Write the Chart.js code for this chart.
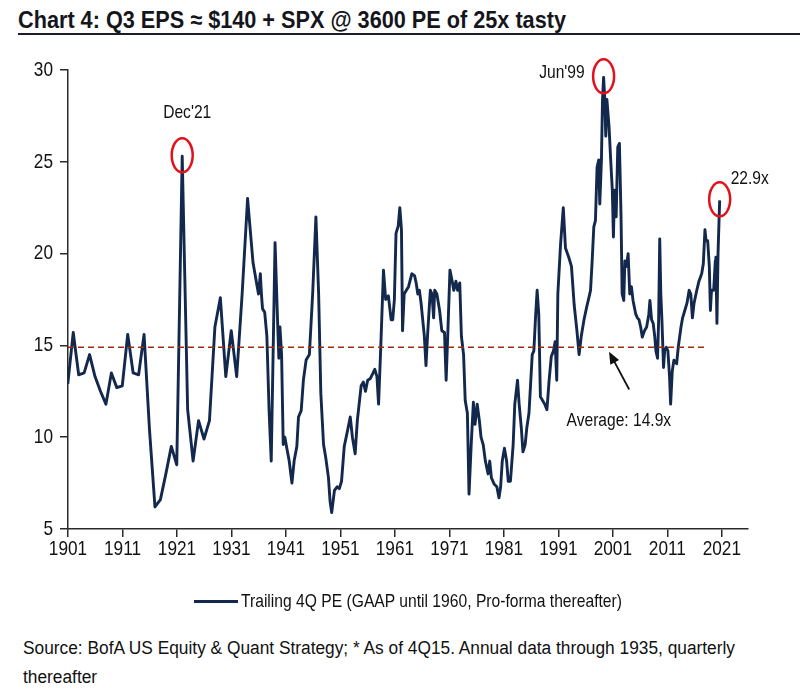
<!DOCTYPE html>
<html>
<head>
<meta charset="utf-8">
<script src="https://cdn.jsdelivr.net/npm/chart.js@4.4.1/dist/chart.umd.min.js"></script>
<style>
  html, body { margin:0; padding:0; background:#fff; }
  body { width:800px; height:690px; position:relative; overflow:hidden;
         font-family:'Liberation Sans',Arial,sans-serif; color:#111; }
  .fit { position:absolute; white-space:nowrap; transform-origin:0 50%; }
  #title { left:18px; top:6px; font-size:24px; font-weight:bold; color:#15161c; }
  #rule { position:absolute; left:18px; right:0; top:33px; height:2px; background:#1b1d2b; }
  #wrap { position:absolute; left:0; top:0; width:800px; height:600px; }
  #legLine { position:absolute; left:194px; top:600px; width:44px; height:3px; background:#13284d; }
  #legText { left:241px; top:590px; font-size:19px; line-height:22px; }
  #src1 { left:23px; top:637px; font-size:18px; line-height:22px; }
  #src2 { left:23px; top:666px; font-size:18px; line-height:22px; }
</style>
</head>
<body>
<div id="title" class="fit">Chart 4: Q3 EPS ≈ $140 + SPX @ 3600 PE of 25x tasty</div>
<div id="rule"></div>
<div id="wrap"><canvas id="peChart"></canvas></div>
<div id="legLine"></div>
<div id="legText" class="fit">Trailing 4Q PE (GAAP until 1960, Pro-forma thereafter)</div>
<div id="src1" class="fit">Source: BofA US Equity &amp; Quant Strategy; * As of 4Q15. Annual data through 1935, quarterly</div>
<div id="src2" class="fit">thereafter</div>

<script>
// annual data (Dec of each year) through 1935
const annualYears = [1900,1901,1902,1903,1904,1905,1906,1907,1908,1909,1910,1911,1912,1913,1914,1915,1916,1917,
  1918,1919,1920,1921,1922,1923,1924,1925,1926,1927,1928,1929,1930,1931,1932,1933,1934,1935];
const annualPE = [12.9,15.7,13.4,13.5,14.5,13.3,12.5,11.8,13.5,12.7,12.8,15.6,13.5,13.4,15.6,10.4,6.2,6.6,
  8.0,9.5,8.5,25.3,11.5,8.7,10.9,9.9,10.9,16.0,17.6,13.3,15.8,13.3,17.8,23.0,19.5,17.8];

// quarterly data afterwards (decimal years)
const quarterDates = [1936.3,1936.5,1936.7,1937.1,1937.5,1937.9,1938.3,1939.0,1939.5,1939.7,1939.9,1940.2,1940.5,1940.8,
  1941.1,1941.6,1942.1,1942.5,1943.0,1943.3,1943.8,1944.2,1944.7,1945.3,1945.9,1946.5,1947.0,1947.4,1947.9,1948.3,
  1948.8,1949.1,1949.4,1949.9,1950.4,1950.8,1951.2,1951.7,1952.4,1952.8,1953.2,1953.7,1954.1,1954.8,1955.2,1955.6,
  1956.0,1956.5,1957.0,1957.3,1957.7,1958.0,1958.4,1958.9,1959.3,1959.8,1960.3,1960.6,1960.9,1961.2,1961.6,1961.9,
  1962.2,1962.4,1962.7,1963.1,1963.5,1964.1,1964.6,1964.9,1965.2,1965.5,1965.8,1966.1,1966.4,1966.7,1967.0,1967.5,
  1967.8,1968.1,1968.3,1968.7,1969.2,1969.6,1970.1,1970.4,1970.7,1971.1,1971.5,1971.8,1972.2,1972.5,1972.9,1973.2,
  1973.6,1973.9,1974.3,1974.6,1975.0,1975.4,1975.7,1976.1,1976.5,1976.8,1977.2,1977.6,1978.1,1978.4,1978.7,1979.2,
  1979.7,1980.1,1980.4,1980.7,1981.1,1981.5,1981.8,1982.2,1982.7,1983.0,1983.5,1983.8,1984.2,1984.5,1984.9,1985.2,
  1985.6,1985.9,1986.2,1986.5,1986.8,1987.1,1987.4,1987.7,1988.1,1988.5,1988.9,1989.3,1989.7,1990.1,1990.4,1990.7,
  1990.9,1991.4,1991.9,1992.3,1992.9,1993.4,1993.9,1994.4,1994.8,1995.2,1995.7,1996.2,1996.6,1996.9,1997.2,1997.5,
  1997.8,1998.1,1998.4,1998.6,1998.9,1999.1,1999.3,1999.5,1999.7,1999.9,2000.3,2000.6,2000.9,2001.1,2001.3,2001.6,
  2001.9,2002.2,2002.5,2002.7,2003.0,2003.2,2003.5,2003.8,2004.1,2004.4,2004.7,2005.2,2005.5,2005.8,2006.1,2006.4,
  2006.8,2007.2,2007.6,2007.8,2008.1,2008.4,2008.7,2008.9,2009.2,2009.4,2009.6,2009.8,2010.0,2010.3,2010.5,2010.8,
  2011.1,2011.4,2011.6,2011.9,2012.2,2012.7,2013.0,2013.5,2013.8,2014.2,2014.6,2015.0,2015.3,2015.6,2015.9,2016.4,
  2016.8,2017.3,2017.6,2017.9,2018.1,2018.4,2018.7,2018.9,2019.1,2019.5,2019.8,2019.9,2020.1,2020.3,2020.6];
const quarterPE = [18.9,17.8,17.0,16.8,15.5,11.5,8.7,20.6,16.0,14.3,16.0,14.5,9.6,10.0,
  9.5,8.7,7.5,8.7,9.5,11.1,11.45,13.1,14.2,14.5,17.8,22.0,17.8,12.4,9.6,8.9,
  7.8,6.5,5.9,7.1,7.3,7.2,7.6,9.5,10.5,11.1,10.0,9.1,10.9,12.8,13.0,12.5,
  13.1,13.2,13.5,13.7,13.3,11.8,14.9,19.1,17.5,17.7,16.4,16.4,17.5,21.1,21.5,22.5,
  21.3,15.8,17.8,18.0,18.2,18.9,18.8,18.4,17.8,18.0,17.3,16.4,15.5,13.9,15.6,18.0,
  17.8,16.5,18.0,17.8,16.9,15.8,15.7,13.1,15.6,19.1,18.5,18.0,18.5,18.0,18.4,15.5,
  14.5,12.0,11.3,6.9,9.6,11.9,10.7,11.8,10.9,10.0,9.6,8.7,8.0,8.7,7.8,7.45,
  7.3,6.7,7.3,8.7,9.4,8.7,7.6,7.6,9.6,11.8,13.1,11.8,10.5,9.2,9.6,10.5,
  11.3,12.9,14.5,14.7,16.5,18.0,16.7,12.2,12.0,11.8,11.5,13.1,14.4,14.7,15.2,13.1,
  17.8,20.5,22.5,20.3,19.8,19.3,17.2,15.8,14.5,15.5,16.4,17.1,17.6,18.0,19.6,21.45,
  21.8,24.7,25.1,22.7,25.1,28.4,29.6,28.5,26.4,28.4,26.9,25.1,23.45,20.9,23.45,22.0,
  25.8,26.0,22.0,17.8,17.45,19.6,19.3,20.0,17.8,18.2,17.45,16.7,16.5,16.4,16.0,15.45,
  15.8,16.0,16.7,17.45,16.4,16.2,15.45,14.7,14.3,16.4,20.8,17.8,16.4,13.8,14.7,14.9,
  14.7,13.3,11.8,13.6,14.2,14.0,14.9,16.0,16.5,16.9,17.3,18.0,17.8,16.5,17.3,18.0,
  18.5,18.9,19.45,21.3,20.7,20.7,19.3,16.9,18.0,18.0,19.6,19.8,16.2,20.0,22.9];

const avgPE = 14.9;
const avgFrom = 1901, avgTo = 2018.2;
const tickYears = [1901,1911,1921,1931,1941,1951,1961,1971,1981,1991,2001,2011,2021];
const yTicks = [5,10,15,20,25,30];

// circled highlights: [x (decimal year), y, label]
const highlights = [
  { x: 1921.96, y: 25.3, text: "Dec'21", pos: 'above' },
  { x: 1999.3,  y: 29.6, text: "Jun'99", pos: 'left' },
  { x: 2020.6,  y: 22.9, text: '22.9x',  pos: 'right' }
];
const avgNote = { text: 'Average: 14.9x', x: 2002.1, y: 10.9, tail: [2004.0, 12.6], head: [2000.3, 14.65] };

const NAVY = '#13284d', RED = '#e3111b', AXIS = '#2a2a2a';
const FONT = "'Liberation Sans',Arial,sans-serif";
const NARROW = 0.82;   // squeeze factor to mimic the condensed face

// squeeze the html texts to the widths they have in the picture
const fitTo = { title: 548, legText: 381, src1: 712 };
Object.keys(fitTo).forEach(id => {
  const el = document.getElementById(id);
  el.style.transform = 'scaleX(' + (fitTo[id] / el.getBoundingClientRect().width) + ')';
});
document.getElementById('src2').style.transform = document.getElementById('src1').style.transform;

const series = annualYears.map((y, i) => ({ x: y + 0.96, y: annualPE[i] }))
  .concat(quarterDates.map((d, i) => ({ x: d, y: quarterPE[i] })));

function narrowText(ctx, text, x, y, align, size) {
  ctx.save();
  ctx.font = size + 'px ' + FONT;
  ctx.textAlign = align; ctx.textBaseline = 'middle';
  ctx.translate(x, y); ctx.scale(NARROW, 1);
  ctx.fillText(text, 0, 0);
  ctx.restore();
}

// tick labels in the condensed look, placed by the scales
const tickLabelPlugin = {
  id: 'tickLabels',
  afterDraw(chart) {
    const { ctx, chartArea, scales: { x, y } } = chart;
    ctx.save(); ctx.fillStyle = '#111';
    x.ticks.forEach(t => narrowText(ctx, String(t.value), x.getPixelForValue(t.value), chartArea.bottom + 20, 'center', 21));
    y.ticks.forEach(t => narrowText(ctx, String(t.value), chartArea.left - 15, y.getPixelForValue(t.value), 'right', 21));
    ctx.restore();
  }
};

// circles, labels and arrow drawn through the scales
const notesPlugin = {
  id: 'notes',
  afterDatasetsDraw(chart) {
    const { ctx, scales: { x, y } } = chart;
    ctx.save();
    ctx.fillStyle = '#111';
    highlights.forEach(h => {
      const px = x.getPixelForValue(h.x), py = y.getPixelForValue(h.y);
      ctx.strokeStyle = RED; ctx.lineWidth = 2.5;
      ctx.beginPath(); ctx.ellipse(px, py - 1, 10.5, 17, 0, 0, Math.PI * 2); ctx.stroke();
      if (h.pos === 'above') narrowText(ctx, h.text, px + 5, py - 44, 'center', 19);
      if (h.pos === 'left')  narrowText(ctx, h.text, px - 19, py - 5, 'right', 19);
      if (h.pos === 'right') narrowText(ctx, h.text, px + 11, py - 22, 'left', 19);
    });
    // average arrow
    const tx = x.getPixelForValue(avgNote.tail[0]), ty = y.getPixelForValue(avgNote.tail[1]);
    const hx = x.getPixelForValue(avgNote.head[0]), hy = y.getPixelForValue(avgNote.head[1]);
    const ang = Math.atan2(hy - ty, hx - tx);
    ctx.strokeStyle = '#111'; ctx.lineWidth = 1.8;
    ctx.beginPath(); ctx.moveTo(tx, ty); ctx.lineTo(hx - 8 * Math.cos(ang), hy - 8 * Math.sin(ang)); ctx.stroke();
    ctx.beginPath();
    ctx.moveTo(hx, hy);
    ctx.lineTo(hx - 12 * Math.cos(ang) + 5 * Math.sin(ang), hy - 12 * Math.sin(ang) - 5 * Math.cos(ang));
    ctx.lineTo(hx - 12 * Math.cos(ang) - 5 * Math.sin(ang), hy - 12 * Math.sin(ang) + 5 * Math.cos(ang));
    ctx.closePath(); ctx.fill();
    narrowText(ctx, avgNote.text, x.getPixelForValue(avgNote.x), y.getPixelForValue(avgNote.y), 'center', 19);
    ctx.restore();
  }
};

Chart.defaults.font.family = FONT;
Chart.defaults.color = '#111';

new Chart(document.getElementById('peChart'), {
  type: 'line',
  data: {
    datasets: [
      { label: 'Average', data: [{ x: avgFrom, y: avgPE }, { x: avgTo, y: avgPE }],
        borderColor: '#982f10', borderWidth: 1.6, borderDash: [6, 4], pointRadius: 0 },
      { label: 'Trailing 4Q PE (GAAP until 1960, Pro-forma thereafter)', data: series,
        borderColor: NAVY, backgroundColor: NAVY, borderWidth: 2.9, pointRadius: 0, tension: 0, borderJoinStyle: 'round' }
    ]
  },
  options: {
    responsive: true, maintainAspectRatio: false, animation: false,
    layout: { padding: { top: 70, right: 52, bottom: 31, left: 0 } },
    plugins: { tooltip: { enabled: false }, legend: { display: false } },
    scales: {
      x: {
        type: 'linear', min: 1901, max: 2025.8,
        afterBuildTicks: s => { s.ticks = tickYears.map(v => ({ value: v })); },
        afterFit: s => { s.height = 40; },
        grid: { drawOnChartArea: false, drawTicks: true, tickLength: 8, color: AXIS, lineWidth: 1.5 },
        border: { display: true, color: AXIS, width: 1.5 },
        ticks: { display: false }
      },
      y: {
        min: 5, max: 30,
        afterBuildTicks: s => { s.ticks = yTicks.map(v => ({ value: v })); },
        afterFit: s => { s.width = 68; },
        grid: { drawOnChartArea: false, drawTicks: true, tickLength: 8, color: AXIS, lineWidth: 1.5 },
        border: { display: true, color: AXIS, width: 1.5 },
        ticks: { display: false }
      }
    }
  },
  plugins: [notesPlugin, tickLabelPlugin]
});
</script>
</body>
</html>
